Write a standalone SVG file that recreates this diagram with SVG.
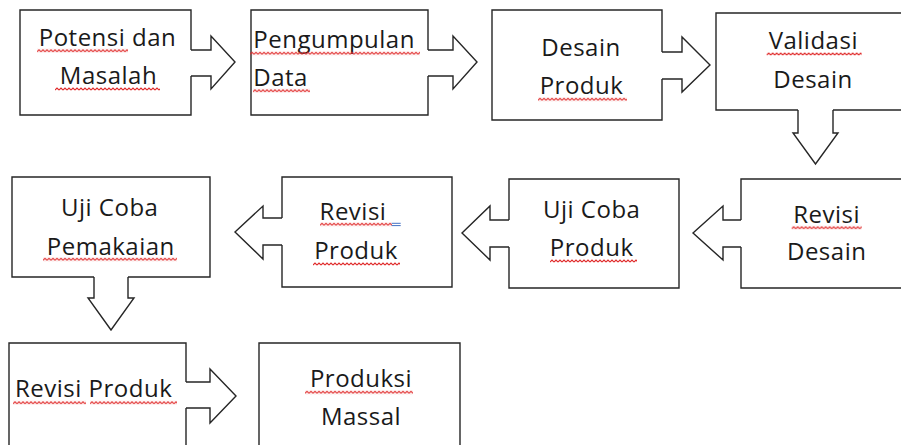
<svg xmlns="http://www.w3.org/2000/svg" width="901" height="445" viewBox="0 0 901 445">
<style>
.box{fill:none;stroke:#262626;stroke-width:1.4;stroke-linejoin:miter}
.arr{fill:none;stroke:#262626;stroke-width:1.4;stroke-linejoin:miter}
.t{font-family:"Open Sans","Liberation Sans",sans-serif;font-size:24px;fill:#1a1a1a;letter-spacing:0.5px}
.m{text-anchor:middle}
.s{text-anchor:start}
.sq{fill:url(#wavy)}
</style>
<defs>
<pattern id="wavy" patternUnits="userSpaceOnUse" width="4" height="4">
<path d="M0,3 L2,1 L4,3" fill="none" stroke="#e02828" stroke-width="1.1"/>
</pattern>
</defs>
<rect width="901" height="445" fill="#ffffff"/>

<g id="connectors">
<path class="arr" d="M191,50 H211 V36 L235,62 L211,89 V76 H191"/>
<path class="arr" d="M428,50 H453 V36 L477,62 L453,89 V76 H428"/>
<path class="arr" d="M662,52 H682 V37 L710,65 L682,92 V79 H662"/>
<path class="arr" d="M798,110 V133 H793 L815.5,164 L838,133 H833 V110"/>
<path class="arr" d="M741,220 H723 V206 L693,233 L723,260 V247 H741"/>
<path class="arr" d="M509,220 H490 V206 L462,233 L490,260 V247 H509"/>
<path class="arr" d="M282,218 H263 V206 L235,232 L263,259 V245 H282"/>
<path class="arr" d="M94,277 V298 H88 L111,330 L134,298 H128 V277"/>
<path class="arr" d="M186,382 H210 V369 L236,396 L210,423 V408 H186"/>
</g>

<g id="n1">
<path class="box" d="M191,50 V10 H20 V115 H191 V76"/>
<text class="t m" x="107.5" y="46">Potensi dan</text>
<text class="t m" x="108.5" y="84">Masalah</text>
<rect class="sq" transform="translate(37,48.7)" width="91" height="4"/>
<rect class="sq" transform="translate(55,87)" width="105" height="4"/>
</g>

<g id="n2">
<path class="box" d="M428,50 V10 H251 V115 H428 V76"/>
<text class="t s" x="253.3" y="48.3">Pengumpulan</text>
<text class="t s" x="253.3" y="86">Data</text>
<rect class="sq" transform="translate(250,51.3)" width="170" height="4"/>
<rect class="sq" transform="translate(253,88.7)" width="57" height="4"/>
</g>

<g id="n3">
<path class="box" d="M662,52 V10 H492 V120 H662 V79"/>
<text class="t m" x="581" y="56">Desain</text>
<text class="t m" x="581.5" y="94">Produk</text>
<rect class="sq" transform="translate(538,97.3)" width="89" height="4"/>
</g>

<g id="n4">
<path class="box" d="M798,110 H716 V13 H910 M833,110 H910"/>
<text class="t m" x="813.3" y="49.3">Validasi</text>
<text class="t m" x="813" y="88.3">Desain</text>
<rect class="sq" transform="translate(766.7,52)" width="95" height="4"/>
</g>

<g id="n5">
<path class="box" d="M741,220 V179 H910 M910,288 H741 V247"/>
<text class="t m" x="826.7" y="223.3">Revisi</text>
<text class="t m" x="826.7" y="260">Desain</text>
<rect class="sq" transform="translate(791.7,225.7)" width="70" height="4"/>
</g>

<g id="n6">
<path class="box" d="M509,220 V179 H679 V288 H509 V247"/>
<text class="t m" x="591.7" y="218.3">Uji Coba</text>
<text class="t m" x="591.7" y="256">Produk</text>
<rect class="sq" transform="translate(550,259)" width="87" height="4"/>
</g>

<g id="n7">
<path class="box" d="M282,218 V177 H452 V287 H282 V245"/>
<text class="t m" x="353" y="220">Revisi</text>
<text class="t m" x="356" y="259.3">Produk</text>
<rect class="sq" transform="translate(320,222.3)" width="72" height="4"/>
<path d="M391.7,223.3 H400.7 M391.7,225.6 H400.7" stroke="#4472c4" stroke-width="1" fill="none"/>
<rect class="sq" transform="translate(313,262)" width="87" height="4"/>
</g>

<g id="n8">
<path class="box" d="M94,277 H12 V177 H210 V277 H128"/>
<text class="t m" x="109.7" y="216">Uji Coba</text>
<text class="t m" x="110.8" y="255">Pemakaian</text>
<rect class="sq" transform="translate(43,257.3)" width="134" height="4"/>
</g>

<g id="n9">
<path class="box" d="M186,382 V343 H9 V450 M186,408 V450"/>
<text class="t s" x="15" y="397.3">Revisi Produk</text>
<rect class="sq" transform="translate(13,400.7)" width="73" height="4"/>
<rect class="sq" transform="translate(90,400.7)" width="87" height="4"/>
</g>

<g id="n10">
<path class="box" d="M259,450 V343 H460 V450"/>
<text class="t m" x="361" y="387.3">Produksi</text>
<text class="t m" x="361" y="425">Massal</text>
<rect class="sq" transform="translate(305,390.3)" width="108" height="4"/>
</g>
</svg>
